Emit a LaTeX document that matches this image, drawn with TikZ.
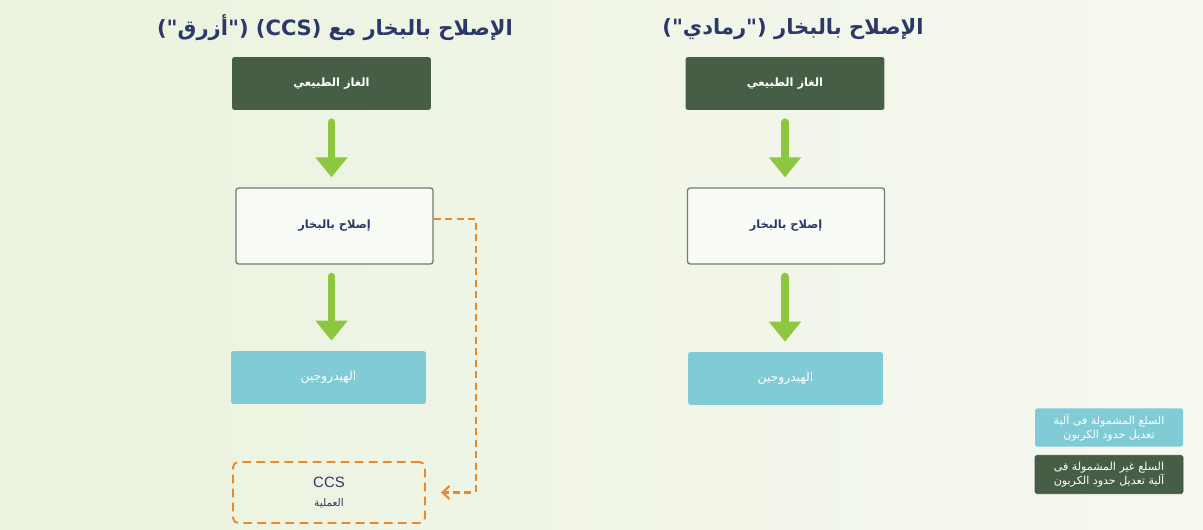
\documentclass[tikz,border=0pt]{standalone}
\usepackage{fontspec}
\setmainfont{Liberation Sans}
\newfontfamily\arabicfont[Script=Arabic]{DejaVu Sans}
\TeXXeTstate=1
\usetikzlibrary{arrows.meta}
\definecolor{LeafDark}{RGB}{70,94,70}
\definecolor{SkyTeal}{RGB}{128,203,213}
\definecolor{ArrowGreen}{RGB}{141,198,63}
\definecolor{CaptOrange}{RGB}{232,137,43}
\definecolor{InkBlue}{RGB}{44,56,104}
\definecolor{FrameGray}{RGB}{110,128,110}
\definecolor{SoftBg}{RGB}{240,245,232}
\tikzset{
  title/.style={text=InkBlue,font=\arabicfont\bfseries\fontsize{12}{14}\selectfont},
  gasbox/.style={fill=LeafDark,rounded corners=1.5pt,minimum width=3.98cm,minimum height=1.06cm,
    text=white,font=\arabicfont\bfseries\fontsize{6.5}{8}\selectfont},
  reformbox/.style={draw=FrameGray,line width=0.8pt,fill=white!60!SoftBg,rounded corners=1.5pt,
    minimum width=3.94cm,minimum height=1.52cm,text=InkBlue,font=\arabicfont\bfseries\fontsize{6.5}{8}\selectfont},
  hydrobox/.style={fill=SkyTeal,rounded corners=1.5pt,minimum width=3.9cm,minimum height=1.06cm,
    text=white,font=\arabicfont\fontsize{7}{8}\selectfont},
  ccsbox/.style={draw=CaptOrange,dash pattern=on 5pt off 3pt,line width=1.1pt,rounded corners=3pt,
    minimum width=3.84cm,minimum height=1.22cm,text=InkBlue,align=center},
  keybox/.style={rounded corners=1pt,minimum width=2.96cm,minimum height=0.77cm,text=white,align=center,
    inner sep=1pt,font=\arabicfont\fontsize{6.3}{8}\selectfont},
  flow/.style={draw=ArrowGreen,line width=4.5pt,line cap=round,
    -{Triangle[width=0.62cm,length=0.4cm]},shorten <=0.24cm,shorten >=0.2cm},
  capture/.style={draw=CaptOrange,line width=1.2pt,dash pattern=on 4pt off 2.5pt,
    -{Straight Barb[length=1.4mm,width=2.6mm]}},
}
\begin{document}
\begin{tikzpicture}[x=0.02cm,y=-0.02cm]
\shade[left color={rgb,255:red,234;green,243;blue,222},right color={rgb,255:red,246;green,248;blue,240}]
  (0,0) rectangle (1203,530);
\useasboundingbox (0,0) rectangle (1203,530);
% blue route (with CCS)
\node[title] (titleB) at (335,28) {\beginR الإصلاح بالبخار مع (\beginL CCS\endL) ("أزرق")\endR};
\node[gasbox] (gasB) at (331.5,83.5) {\beginR الغاز الطبيعي\endR};
\node[reformbox] (reformB) at (334.5,226) {\beginR إصلاح بالبخار\endR};
\node[hydrobox] (hydroB) at (328.5,377.5) {\beginR الهيدروجين\endR};
\node[ccsbox] (ccsB) at (329,492.5) {\fontsize{8.5}{9}\selectfont CCS\\[-1pt]
  {\arabicfont\fontsize{6}{7}\selectfont\beginR العملية\endR}};
\draw[flow] (gasB.south) -- (gasB.south |- reformB.north);
\draw[flow] (gasB.south |- reformB.south) -- (gasB.south |- hydroB.north);
\draw[capture] ([yshift=0.14cm]reformB.east) -- ++(42,0) |- ([xshift=0.3cm]ccsB.east);
% grey route
\node[title] (titleG) at (793,29) {\beginR الإصلاح بالبخار ("رمادي")\endR};
\node[gasbox] (gasG) at (785,83.5) {\beginR الغاز الطبيعي\endR};
\node[reformbox] (reformG) at (786,226) {\beginR إصلاح بالبخار\endR};
\node[hydrobox] (hydroG) at (785.5,378.5) {\beginR الهيدروجين\endR};
\draw[flow] (gasG.south) -- (gasG.south |- reformG.north);
\draw[flow] (gasG.south |- reformG.south) -- (gasG.south |- hydroG.north);
% key
\node[keybox,fill=SkyTeal] (keyIn) at (1109,427.5) {\beginR السلع المشمولة فى آلية\endR\\\beginR تعديل حدود الكربون\endR};
\node[keybox,fill=LeafDark,draw=black!70,line width=0.4pt] (keyOut) at (1109,474.5) {\beginR السلع غير المشمولة فى\endR\\\beginR آلية تعديل حدود الكربون\endR};
\end{tikzpicture}
\end{document}
